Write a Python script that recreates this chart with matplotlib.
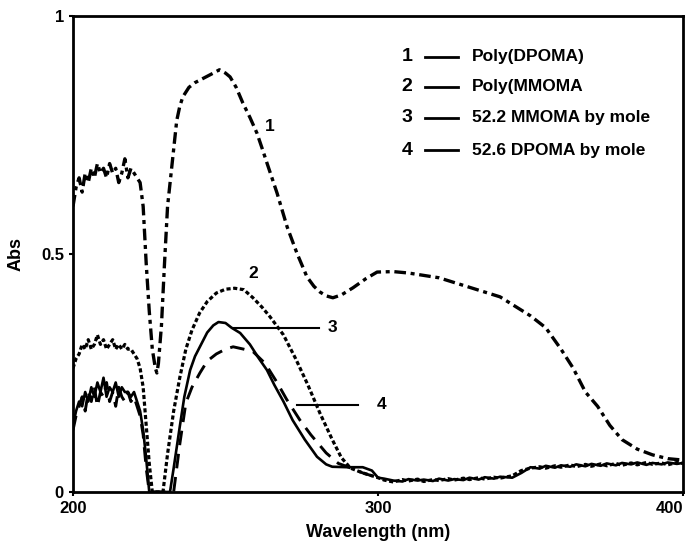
import matplotlib.pyplot as plt
import numpy as np

plt.rcParams['font.family'] = ['Liberation Sans', 'DejaVu Sans']
plt.rcParams['font.weight'] = 'bold'

# noisy start region 200..222 nm (1 nm steps)
x_noise = list(range(200, 223))
c1_noise = [0.60, 0.64, 0.66, 0.63, 0.67, 0.65, 0.68, 0.66, 0.69, 0.67, 0.68, 0.66,
            0.69, 0.67, 0.68, 0.65, 0.67, 0.70, 0.66, 0.68, 0.67, 0.66, 0.65]
c2_noise = [0.26, 0.28, 0.29, 0.31, 0.30, 0.32, 0.30, 0.31, 0.33, 0.31, 0.32, 0.30,
            0.31, 0.32, 0.30, 0.31, 0.30, 0.31, 0.30, 0.30, 0.29, 0.28, 0.26]
c3_noise = [0.14, 0.17, 0.19, 0.18, 0.21, 0.19, 0.22, 0.20, 0.23, 0.21, 0.24, 0.20,
            0.22, 0.21, 0.23, 0.20, 0.22, 0.21, 0.21, 0.20, 0.21, 0.19, 0.17]
c4_noise = [0.13, 0.16, 0.18, 0.20, 0.17, 0.21, 0.19, 0.22, 0.18, 0.21, 0.20, 0.23,
            0.19, 0.21, 0.18, 0.22, 0.20, 0.19, 0.21, 0.19, 0.20, 0.18, 0.16]

# curve 1 : Poly(DPOMA)
c1_x = [223, 224, 225, 226, 227, 227.5, 228, 229, 230, 231, 232, 233, 234, 235, 236, 238,
        240, 243, 246, 248, 250, 251.5, 253.5, 255.7, 258, 260.3, 262, 263.6, 266.9,
        270.2, 273.4, 276.7, 279, 281, 283, 285.2, 288, 291.8, 296, 299.7, 305, 310,
        315, 320, 325, 330, 335, 340, 345, 350, 355, 360, 364, 368, 372, 376, 380, 385,
        390, 395, 400]
c1_y = [0.60, 0.48, 0.38, 0.30, 0.26, 0.25, 0.27, 0.35, 0.48, 0.60, 0.66, 0.72, 0.78,
        0.81, 0.83, 0.85, 0.86, 0.87, 0.88, 0.887, 0.88, 0.872, 0.85, 0.817, 0.787,
        0.754, 0.722, 0.691, 0.628, 0.557, 0.502, 0.452, 0.432, 0.42, 0.412, 0.408,
        0.414, 0.429, 0.448, 0.462, 0.463, 0.46, 0.455, 0.45, 0.44, 0.43, 0.42, 0.41,
        0.39, 0.37, 0.345, 0.30, 0.26, 0.21, 0.18, 0.14, 0.11, 0.09, 0.078, 0.07, 0.067]

# curve 2 : Poly(MMOMA)
c2_x = [223, 224, 225, 226, 229.5, 231, 233, 235, 237, 239, 241.5, 244, 247, 250, 253,
        256, 259, 262, 264.6, 269, 273, 277, 281, 285, 288, 291, 295, 300]
c2_y = [0.22, 0.14, 0.06, 0.0, 0.0, 0.08, 0.17, 0.24, 0.30, 0.34, 0.376, 0.40, 0.418,
        0.426, 0.428, 0.425, 0.408, 0.388, 0.368, 0.33, 0.28, 0.225, 0.165, 0.11, 0.072,
        0.05, 0.04, 0.03]

# curve 3 : 52.2 MMOMA
c3_x = [223, 224, 225, 231.8, 233, 235, 236.5, 238.4, 240, 241.6, 244, 246, 247.7, 250,
        252, 254.8, 258, 261, 263.6, 266, 269, 272, 276, 280, 283, 285, 290, 295, 298, 300]
c3_y = [0.13, 0.07, 0.0, 0.0, 0.05, 0.137, 0.20, 0.256, 0.285, 0.305, 0.335, 0.35, 0.357,
        0.355, 0.345, 0.334, 0.31, 0.28, 0.256, 0.225, 0.19, 0.151, 0.11, 0.074, 0.058,
        0.053, 0.052, 0.052, 0.045, 0.03]

# curve 4 : 52.6 DPOMA
c4_x = [223, 224, 225, 233, 235, 237, 239, 241.6, 244, 247, 250, 252.5, 256, 259, 263,
        267, 270, 274.4, 278, 283, 287, 290, 295, 300]
c4_y = [0.12, 0.05, 0.0, 0.0, 0.10, 0.187, 0.22, 0.25, 0.275, 0.29, 0.30, 0.305, 0.30,
        0.295, 0.27, 0.229, 0.195, 0.151, 0.12, 0.082, 0.06, 0.053, 0.04, 0.03]

# merged noisy baseline 300..400
tail_x = [300, 302, 305, 308, 310, 313, 315, 318, 320, 323, 325, 328, 330, 333, 335, 338,
          340, 344, 347, 350, 353, 355, 358, 360, 363, 365, 368, 370, 373, 375, 378, 380,
          383, 385, 388, 390, 393, 395, 398, 400]
tail_a = [0.03, 0.025, 0.021, 0.026, 0.023, 0.027, 0.022, 0.026, 0.024, 0.028, 0.025,
          0.029, 0.026, 0.030, 0.027, 0.031, 0.029, 0.034, 0.045, 0.050, 0.053, 0.050,
          0.055, 0.052, 0.057, 0.053, 0.058, 0.054, 0.059, 0.055, 0.060, 0.056, 0.061,
          0.057, 0.062, 0.058, 0.061, 0.057, 0.062, 0.060]
tail_b = [0.03, 0.028, 0.024, 0.022, 0.027, 0.024, 0.026, 0.023, 0.028, 0.024, 0.027,
          0.025, 0.030, 0.026, 0.031, 0.028, 0.032, 0.030, 0.040, 0.052, 0.049, 0.055,
          0.051, 0.056, 0.053, 0.058, 0.054, 0.059, 0.055, 0.060, 0.056, 0.061, 0.058,
          0.062, 0.057, 0.061, 0.058, 0.062, 0.059, 0.061]

legend_nums = ['1', '2', '3', '4']
legend_names = ['Poly(DPOMA)', 'Poly(MMOMA', '52.2 MMOMA by mole', '52.6 DPOMA by mole']

fig = plt.figure(figsize=(6.92, 5.42), dpi=100)
ax = fig.add_axes([0.1055, 0.0923, 0.8815, 0.8782])

k = 'black'
ax.plot(x_noise + c1_x, c1_noise + c1_y, color=k, lw=2.4, dashes=(3.5, 1.4, 1.2, 1.4))
ax.plot(x_noise + c2_x + tail_x, c2_noise + c2_y + tail_a, color=k, lw=2.3, dashes=(1.3, 0.8))
ax.plot(x_noise + c3_x + tail_x, c3_noise + c3_y + tail_b, color=k, lw=1.9)
ax.plot(x_noise + c4_x, c4_noise + c4_y, color=k, lw=2.1, dashes=(5, 3))

# curve labels
ax.text(264.6, 0.767, '1', fontsize=12.5, ha='center', va='center')
ax.text(259, 0.46, '2', fontsize=12.5, ha='center', va='center')
ax.plot([252.5, 280.7], [0.345, 0.345], color=k, lw=1.5)
ax.text(283.5, 0.345, '3', fontsize=12.5, ha='left', va='center')
ax.plot([273.4, 293.4], [0.183, 0.183], color=k, lw=1.5)
ax.text(301.3, 0.183, '4', fontsize=12.5, ha='center', va='center')

# legend made of text
rows = [0.914, 0.851, 0.786, 0.718]
for num, name, yy in zip(legend_nums, legend_names, rows):
    ax.text(309.5, yy, num, fontsize=14, ha='center', va='center')
    ax.plot([315.4, 326.2], [yy, yy], color=k, lw=2)
    ax.text(330.8, yy, name, fontsize=12.5, ha='left', va='center')

ax.set_xlim(200, 400)
ax.set_ylim(0, 1)
ax.set_xticks([200, 300, 400])
ax.set_yticks([0, 0.5, 1])
ax.set_yticklabels(['0', '0.5', '1'])
ax.tick_params(direction='out', length=3, width=1.5, labelsize=12)
for lab in ax.get_xticklabels() + ax.get_yticklabels():
    lab.set_fontweight('bold')
ax.get_xticklabels()[-1].set_horizontalalignment('right')
ax.get_xticklabels()[-1].set_x(402)
for s in ax.spines.values():
    s.set_linewidth(2)
ax.set_xlabel('Wavelength (nm)', fontsize=13, fontweight='bold', labelpad=6)
ax.set_ylabel('Abs', fontsize=13, fontweight='bold', labelpad=12)

fig.savefig('out.png', dpi=100)
